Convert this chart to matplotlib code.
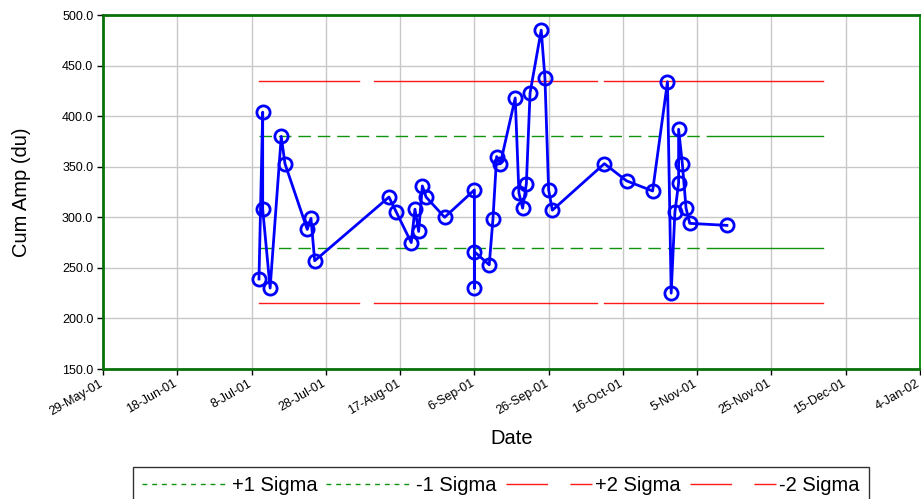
import pandas as pd
import matplotlib
matplotlib.use('Agg')
import matplotlib.pyplot as plt
import matplotlib.dates as mdates
import matplotlib.transforms as mtransforms
from matplotlib.lines import Line2D
from matplotlib.ticker import FuncFormatter

plt.rcParams['font.family'] = ['Liberation Sans', 'DejaVu Sans']

# data
dates = ['2001-07-10', '2001-07-11', '2001-07-11', '2001-07-13', '2001-07-16',
         '2001-07-17', '2001-07-23', '2001-07-24', '2001-07-25', '2001-08-14',
         '2001-08-16', '2001-08-20', '2001-08-21', '2001-08-22', '2001-08-23',
         '2001-08-24', '2001-08-29', '2001-09-06', '2001-09-06', '2001-09-06',
         '2001-09-10', '2001-09-11', '2001-09-12', '2001-09-13', '2001-09-17',
         '2001-09-18', '2001-09-19', '2001-09-20', '2001-09-21', '2001-09-24',
         '2001-09-25', '2001-09-26', '2001-09-27', '2001-10-11', '2001-10-17',
         '2001-10-24', '2001-10-28', '2001-10-29', '2001-10-30', '2001-10-31',
         '2001-10-31', '2001-11-01', '2001-11-02', '2001-11-03', '2001-11-13']
cum_amp = [239, 404, 308, 230, 380,
           353, 288, 299, 257, 320,
           305, 275, 308, 286, 331,
           320, 300, 327, 230, 266,
           253, 298, 360, 353, 418,
           324, 309, 333, 423, 485,
           438, 327, 307, 353, 336,
           326, 434, 225, 305, 334,
           387, 353, 309, 294, 292]

# control limits (mean 325, sigma 55)
plus1 = 380
minus1 = 270
plus2 = 435
minus2 = 215
ctrl_start = '2001-07-10'
ctrl_end = '2001-12-09'
green_solid_from = '2001-11-11'
red_gaps = [('2001-08-06', '2001-08-10'), ('2001-10-09', '2001-10-11')]

x = pd.to_datetime(dates)

fig = plt.figure(figsize=(9.21, 4.99), dpi=100)
ax = fig.add_axes([103 / 921, 1 - 369 / 499, 817 / 921, 354 / 499])

green = '#109410'
red = '#ff1a1a'

# +-1 sigma lines: dashed, solid tail
for lvl in [plus1, minus1]:
    ax.plot(pd.to_datetime([ctrl_start, green_solid_from]), [lvl, lvl], color=green,
            lw=1.0, dashes=(9, 5), zorder=2)
    ax.plot(pd.to_datetime([green_solid_from, ctrl_end]), [lvl, lvl], color=green,
            lw=1.0, zorder=2)

# +-2 sigma lines: solid with small gaps
red_bounds = [ctrl_start] + [d for g in red_gaps for d in g] + [ctrl_end]
for lvl in [plus2, minus2]:
    for i in range(0, len(red_bounds), 2):
        ax.plot(pd.to_datetime(red_bounds[i:i + 2]), [lvl, lvl], color=red,
                lw=1.0, zorder=2)

ax.plot(x, cum_amp, color='#0000ff', lw=2.0, marker='o', markersize=9.5,
        markerfacecolor='none', markeredgewidth=2.0, zorder=3)

ax.set_ylim(150, 500)
ax.set_yticks(range(150, 501, 50))
ax.yaxis.set_major_formatter(FuncFormatter(lambda v, p: f'{v:.1f}'))

x0 = pd.Timestamp('2001-05-29')
x1 = pd.Timestamp('2002-01-04')
ax.set_xlim(x0, x1)
ax.set_xticks(pd.date_range(x0, x1, freq='20D'))
ax.xaxis.set_major_formatter(FuncFormatter(
    lambda v, p: (lambda d: f'{d.day}-{d:%b-%y}')(mdates.num2date(v))))

ax.tick_params(axis='both', labelsize=9, direction='out', length=4, width=1,
               color='black', pad=3)
ax.tick_params(axis='x', pad=2)

shift = mtransforms.ScaledTranslation(-4 / 100, 0, fig.dpi_scale_trans)
for lab in ax.get_xticklabels():
    lab.set_rotation(30)
    lab.set_ha('right')
    lab.set_rotation_mode('anchor')
    lab.set_transform(lab.get_transform() + shift)

ax.grid(True, color='#c8c8c8', lw=1.0, zorder=0)
ax.set_axisbelow(True)

for side in ['left', 'bottom', 'top']:
    ax.spines[side].set_color('#0a700a')
    ax.spines[side].set_linewidth(2.0)
ax.spines['right'].set_color('#0a8a0a')
ax.spines['right'].set_linewidth(1.3)

ax.set_ylabel('Cum Amp (du)', fontsize=14.5, labelpad=22)
ax.set_xlabel('Date', fontsize=14.5, labelpad=8)

handles = [
    Line2D([], [], color=green, lw=1.0, dashes=(3.5, 3.5)),
    Line2D([], [], color=green, lw=1.0, dashes=(3.5, 3.5)),
    Line2D([], [], color=red, lw=1.0, dashes=(30, 16)),
    Line2D([], [], color=red, lw=1.0, dashes=(30, 16)),
]
labels = ['+1 Sigma', '-1 Sigma', '+2 Sigma', '-2 Sigma']
leg = fig.legend(handles, labels, loc='upper center', ncol=4,
                 bbox_to_anchor=(501 / 921, 1 - 467 / 499), fontsize=14.5,
                 frameon=True, fancybox=False, handlelength=4.3,
                 handletextpad=0.15, columnspacing=0.45, borderpad=0.45,
                 borderaxespad=0)
leg.get_frame().set_edgecolor('black')
leg.get_frame().set_linewidth(1.0)

fig.savefig('out.png', dpi=100)
